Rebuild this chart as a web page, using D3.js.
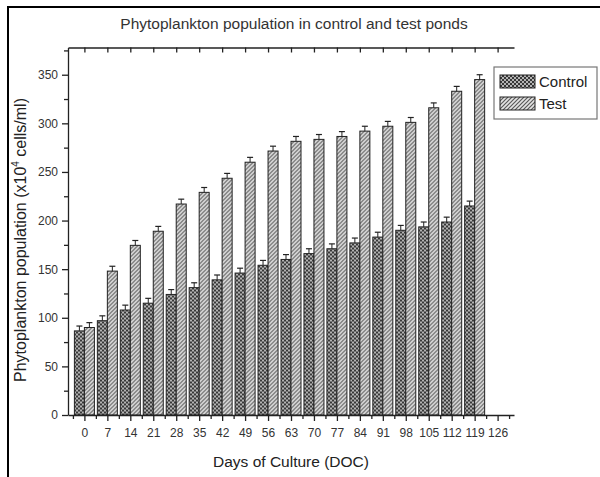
<!DOCTYPE html>
<html>
<head>
<meta charset="utf-8">
<script src="https://cdnjs.cloudflare.com/ajax/libs/d3/7.8.5/d3.min.js"></script>
<style>
  body { margin: 0; background: #fff; }
  svg { display: block; font-family: "Liberation Sans", Arial, sans-serif; }
  .axis path, .axis line { stroke: #222; stroke-width: 1.3; }
  .axis text { fill: #333; font-size: 12px; font-family: "Liberation Sans", Arial, sans-serif; }
</style>
</head>
<body>
<div id="chart"></div>
<script>
// Data
var days = [0, 7, 14, 21, 28, 35, 42, 49, 56, 63, 70, 77, 84, 91, 98, 105, 112, 119];
var control = [86.5, 97, 108, 115, 124, 131, 139, 146, 154, 160, 166, 171, 177, 183, 190, 193.5, 198.5, 215];
var test = [90, 148, 174.5, 189, 217, 229, 243.5, 260, 271.5, 281.5, 283.5, 286.5, 292, 297, 301, 316, 333, 345];
var controlErr = [5, 5, 5, 5, 5, 5, 5, 5, 5, 5, 5, 5, 5, 5, 5, 5, 5, 5];
var testErr = [5, 5, 5, 5, 5, 5, 5, 5, 5, 5, 5, 5, 5, 5, 5, 5, 5, 5];
var xTicks = [0, 7, 14, 21, 28, 35, 42, 49, 56, 63, 70, 77, 84, 91, 98, 105, 112, 119, 126];
var yTicks = [0, 50, 100, 150, 200, 250, 300, 350];
var seriesNames = ["Control", "Test"];

var svgWidth = 600;
var svgHeight = 477;

var margin = { top: 47.5, right: 86, bottom: 62, left: 68 };
var width = svgWidth - margin.left - margin.right;
var height = svgHeight - margin.top - margin.bottom;

var svg = d3.select("#chart")
  .append("svg")
  .attr("width", svgWidth)
  .attr("height", svgHeight);

// patterns for the two series
var defs = svg.append("defs");
var pc = defs.append("pattern")
  .attr("id", "patControl")
  .attr("patternUnits", "userSpaceOnUse")
  .attr("width", 4).attr("height", 4);
pc.append("rect").attr("width", 4).attr("height", 4).attr("fill", "#b4b4b4");
pc.append("rect").attr("width", 2).attr("height", 2).attr("fill", "#383838");
pc.append("rect").attr("x", 2).attr("y", 2).attr("width", 2).attr("height", 2).attr("fill", "#383838");

var pt = defs.append("pattern")
  .attr("id", "patTest")
  .attr("patternUnits", "userSpaceOnUse")
  .attr("width", 4).attr("height", 4);
pt.append("rect").attr("width", 4).attr("height", 4).attr("fill", "#e4e4e4");
pt.append("path")
  .attr("d", "M-1,1 L1,-1 M0,4 L4,0 M3,5 L5,3")
  .attr("stroke", "#5a5a5a")
  .attr("stroke-width", 1.2);

// outer frame (left and top only)
svg.append("line").attr("x1", 8).attr("y1", 6).attr("x2", 8).attr("y2", svgHeight)
  .attr("stroke", "#000").attr("stroke-width", 2);
svg.append("line").attr("x1", 7).attr("y1", 7).attr("x2", svgWidth).attr("y2", 7)
  .attr("stroke", "#000").attr("stroke-width", 2);

var chartGroup = svg.append("g")
  .attr("transform", `translate(${margin.left}, ${margin.top})`);

// scales
var xScale = d3.scaleLinear().domain([-5, 131]).range([0, width]);
var yScale = d3.scaleLinear().domain([0, 378]).range([height, 0]);

var barWidth = 10;

// bars
var groups = chartGroup.selectAll(".grp")
  .data(days)
  .enter()
  .append("g")
  .attr("class", "grp");

groups.append("rect")
  .attr("x", d => xScale(d) - barWidth)
  .attr("y", (d, i) => yScale(control[i]))
  .attr("width", barWidth)
  .attr("height", (d, i) => height - yScale(control[i]))
  .attr("fill", "url(#patControl)")
  .attr("stroke", "#222")
  .attr("stroke-width", 1);

groups.append("rect")
  .attr("x", d => xScale(d))
  .attr("y", (d, i) => yScale(test[i]))
  .attr("width", barWidth)
  .attr("height", (d, i) => height - yScale(test[i]))
  .attr("fill", "url(#patTest)")
  .attr("stroke", "#222")
  .attr("stroke-width", 1);

// error bars (upper part)
function errBar(sel, cx, v, e) {
  sel.append("line")
    .attr("x1", cx).attr("x2", cx)
    .attr("y1", yScale(v)).attr("y2", yScale(v + e))
    .attr("stroke", "#222").attr("stroke-width", 1);
  sel.append("line")
    .attr("x1", cx - 3).attr("x2", cx + 3)
    .attr("y1", yScale(v + e)).attr("y2", yScale(v + e))
    .attr("stroke", "#222").attr("stroke-width", 1.2);
}
groups.each(function(d, i) {
  var g = d3.select(this);
  errBar(g, xScale(d) - barWidth / 2, control[i], controlErr[i]);
  errBar(g, xScale(d) + barWidth / 2, test[i], testErr[i]);
});

// minor tick values
var xMinor = xTicks.map(d => d - 3.5).concat([129.5]).filter(d => d > -5 && d < 131);
var yMinor = yTicks.map(d => d + 25).filter(d => d < 378);

// bottom axis
chartGroup.append("g")
  .attr("class", "axis")
  .attr("transform", `translate(0, ${height})`)
  .call(d3.axisBottom(xScale).tickValues(xMinor).tickSize(4).tickSizeOuter(0).tickFormat(""));

chartGroup.append("g")
  .attr("class", "axis")
  .attr("transform", `translate(0, ${height})`)
  .call(d3.axisBottom(xScale).tickValues(xTicks).tickSize(6).tickSizeOuter(0).tickPadding(7))
  .select(".domain").remove();

// top axis, ticks pointing in
chartGroup.append("g")
  .attr("class", "axis")
  .call(d3.axisBottom(xScale).tickValues(xTicks).tickSize(5).tickSizeOuter(0).tickFormat(""));

// left axis
chartGroup.append("g")
  .attr("class", "axis")
  .call(d3.axisLeft(yScale).tickValues(yMinor).tickSize(4).tickSizeOuter(0).tickFormat(""));

chartGroup.append("g")
  .attr("class", "axis")
  .call(d3.axisLeft(yScale).tickValues(yTicks).tickSize(6).tickSizeOuter(0).tickPadding(4))
  .select(".domain").remove();

// title
svg.append("text")
  .attr("x", 294)
  .attr("y", 29)
  .attr("text-anchor", "middle")
  .attr("font-size", "15.5px")
  .attr("fill", "#333")
  .text("Phytoplankton population in control and test ponds");

// axis labels
svg.append("text")
  .attr("x", 291)
  .attr("y", 467)
  .attr("text-anchor", "middle")
  .attr("font-size", "15.5px")
  .attr("fill", "#222")
  .text("Days of Culture (DOC)");

var yLab = svg.append("text")
  .attr("transform", "translate(26, 240) rotate(-90)")
  .attr("text-anchor", "middle")
  .attr("font-size", "16px")
  .attr("fill", "#222");
yLab.append("tspan").text("Phytoplankton population (x10");
yLab.append("tspan").attr("font-size", "10px").attr("dy", -7).text("4");
yLab.append("tspan").attr("dy", 7).text(" cells/ml)");

// legend
var legend = svg.append("g").attr("transform", "translate(494, 67)");
legend.append("rect")
  .attr("width", 103).attr("height", 52)
  .attr("fill", "#fff").attr("stroke", "#777").attr("stroke-width", 1.2);
var legendFills = ["url(#patControl)", "url(#patTest)"];
seriesNames.forEach(function(name, i) {
  legend.append("rect")
    .attr("x", 6).attr("y", 8 + i * 22)
    .attr("width", 35).attr("height", 13)
    .attr("fill", legendFills[i])
    .attr("stroke", "#222").attr("stroke-width", 1);
  legend.append("text")
    .attr("x", 45).attr("y", 20 + i * 22)
    .attr("font-size", "15px")
    .attr("fill", "#222")
    .text(name);
});
</script>
</body>
</html>
